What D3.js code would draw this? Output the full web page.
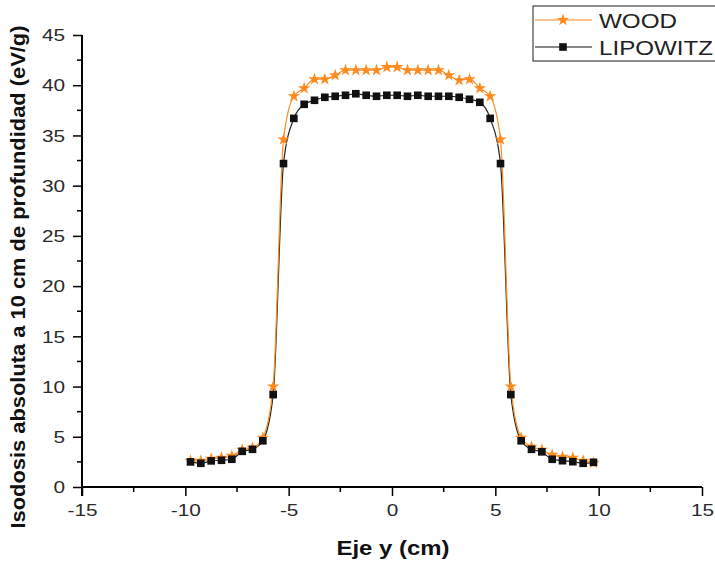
<!DOCTYPE html>
<html><head><meta charset="utf-8">
<script src="https://cdn.jsdelivr.net/npm/d3@7/dist/d3.min.js"></script>
<style>body{margin:0;background:#fff}svg{display:block}</style>
</head><body><svg id="c" width="715" height="562"></svg>
<script>
const xValues = [-9.75,-9.25,-8.75,-8.25,-7.75,-7.25,-6.75,-6.25,-5.75,-5.25,-4.75,-4.25,-3.75,-3.25,-2.75,-2.25,-1.75,-1.25,-0.75,-0.25,0.25,0.75,1.25,1.75,2.25,2.75,3.25,3.75,4.25,4.75,5.25,5.75,6.25,6.75,7.25,7.75,8.25,8.75,9.25,9.75];
const wood = [2.6,2.6,2.8,2.9,3.1,3.7,3.9,4.9,10.0,34.6,38.9,39.7,40.6,40.6,41.0,41.5,41.5,41.5,41.5,41.8,41.8,41.5,41.5,41.5,41.5,41.0,40.5,40.6,39.7,38.9,34.6,10.0,4.9,4.0,3.7,3.2,3.0,2.9,2.6,2.4];
const lipowitz = [2.5,2.36,2.6,2.66,2.76,3.55,3.75,4.6,9.2,32.2,36.7,38.1,38.5,38.8,38.9,39.0,39.15,39.0,38.9,39.0,39.0,38.9,39.0,38.9,38.9,38.9,38.8,38.6,38.3,36.7,32.2,9.2,4.6,3.75,3.5,2.76,2.62,2.52,2.36,2.46];
const xTicks = [-15,-10,-5,0,5,10,15];
const yTicks = [0,5,10,15,20,25,30,35,40,45];
const seriesNames = ["WOOD","LIPOWITZ"];
const xTitle = "Eje y (cm)";
const yTitle = "Isodosis absoluta a 10 cm de profundidad (eV/g)";

const svg = d3.select("#c");
const x = d3.scaleLinear().domain([-15,15]).range([82,702]);
const y = d3.scaleLinear().domain([0,45]).range([487,35]);
const FONT = "Liberation Sans, Arial, sans-serif";
const STRETCH = 1.3;
function stretch(sel, k){ sel.each(function(){ const l=this.getComputedTextLength(); d3.select(this).attr("textLength", l*k).attr("lengthAdjust","spacingAndGlyphs"); }); }

// minor ticks
const xMinor = d3.range(-15,15.01,2.5).filter(v=>!xTicks.includes(v));
const yMinor = d3.range(0,45.01,2.5).filter(v=>!yTicks.includes(v));
svg.append("g").selectAll("line").data(xMinor).join("line")
  .attr("x1",d=>x(d)).attr("x2",d=>x(d)).attr("y1",y(0)).attr("y2",y(0)+5)
  .attr("stroke","#000").attr("stroke-width",1.5);
svg.append("g").selectAll("line").data(yMinor).join("line")
  .attr("y1",d=>y(d)).attr("y2",d=>y(d)).attr("x1",x(-15)).attr("x2",x(-15)-5)
  .attr("stroke","#000").attr("stroke-width",1.5);

const xAxis = svg.append("g").attr("transform",`translate(0,${y(0)})`)
  .call(d3.axisBottom(x).tickValues(xTicks).tickFormat(d=>String(d)).tickSize(9).tickPadding(9));
const yAxis = svg.append("g").attr("transform",`translate(${x(-15)},0)`)
  .call(d3.axisLeft(y).tickValues(yTicks).tickFormat(d=>String(d)).tickSize(9).tickPadding(8));
[xAxis,yAxis].forEach(a=>{
  a.select(".domain").attr("stroke","#000").attr("stroke-width",2);
  a.selectAll(".tick line").attr("stroke","#000").attr("stroke-width",1.5);
  a.selectAll("text").attr("font-family",FONT).attr("font-size",16).attr("fill","#2a2a2a");
});
xAxis.select(".domain").attr("d",`M${x(-15)},0H${x(15)}`);
yAxis.select(".domain").attr("d",`M0,${y(45)}V${y(0)+9}`);
stretch(xAxis.selectAll("text"), STRETCH);
stretch(yAxis.selectAll("text"), STRETCH);
yAxis.selectAll("text").attr("dy","0.36em");

// lines
const orange = "#FF8A1E";
const black = "#111";
const line = d3.line().x((d,i)=>x(xValues[i])).y(d=>y(d)).curve(d3.curveMonotoneX);
svg.append("path").attr("d",line(lipowitz)).attr("fill","none").attr("stroke","#222").attr("stroke-width",1.2);
svg.append("path").attr("d",line(wood)).attr("fill","none").attr("stroke",orange).attr("stroke-width",1.2);
const star = d3.symbol().type(d3.symbolStar).size(48);
const sq = d3.symbol().type(d3.symbolSquare).size(58);
svg.append("g").selectAll("path").data(wood).join("path")
  .attr("d",star).attr("transform",(d,i)=>`translate(${x(xValues[i])},${y(d)})`).attr("fill",orange);
svg.append("g").selectAll("path").data(lipowitz).join("path")
  .attr("d",sq).attr("transform",(d,i)=>`translate(${x(xValues[i])},${y(d)})`).attr("fill",black);

// titles
const xt = svg.append("text").attr("x",393).attr("y",555).attr("text-anchor","middle")
  .attr("font-family",FONT).attr("font-weight","bold").attr("font-size",20).attr("fill","#111").text(xTitle);
xt.attr("textLength",113).attr("lengthAdjust","spacingAndGlyphs");
svg.append("text").attr("transform","translate(25,277) rotate(-90)").attr("text-anchor","middle")
  .attr("font-family",FONT).attr("font-weight","bold").attr("font-size",21).attr("fill","#111")
  .attr("textLength",503).attr("lengthAdjust","spacingAndGlyphs").text(yTitle);

// legend
const lg = svg.append("g");
lg.append("rect").attr("x",533).attr("y",6).attr("width",200).attr("height",55)
  .attr("fill","#fff").attr("stroke","#444").attr("stroke-width",1.2);
const items = [{name:seriesNames[0],color:orange,sym:star,ty:20,len:78},{name:seriesNames[1],color:black,sym:sq,ty:47,len:114}];
items.forEach(it=>{
  lg.append("line").attr("x1",535).attr("x2",592).attr("y1",it.ty).attr("y2",it.ty).attr("stroke",it.color).attr("stroke-width",1.2);
  lg.append("path").attr("d",it.sym).attr("transform",`translate(563,${it.ty})`).attr("fill",it.color);
  lg.append("text").attr("x",599).attr("y",it.ty+8).attr("font-family",FONT).attr("font-size",21).attr("fill","#222")
    .attr("textLength",it.len).attr("lengthAdjust","spacingAndGlyphs").text(it.name);
});
</script></body></html>
